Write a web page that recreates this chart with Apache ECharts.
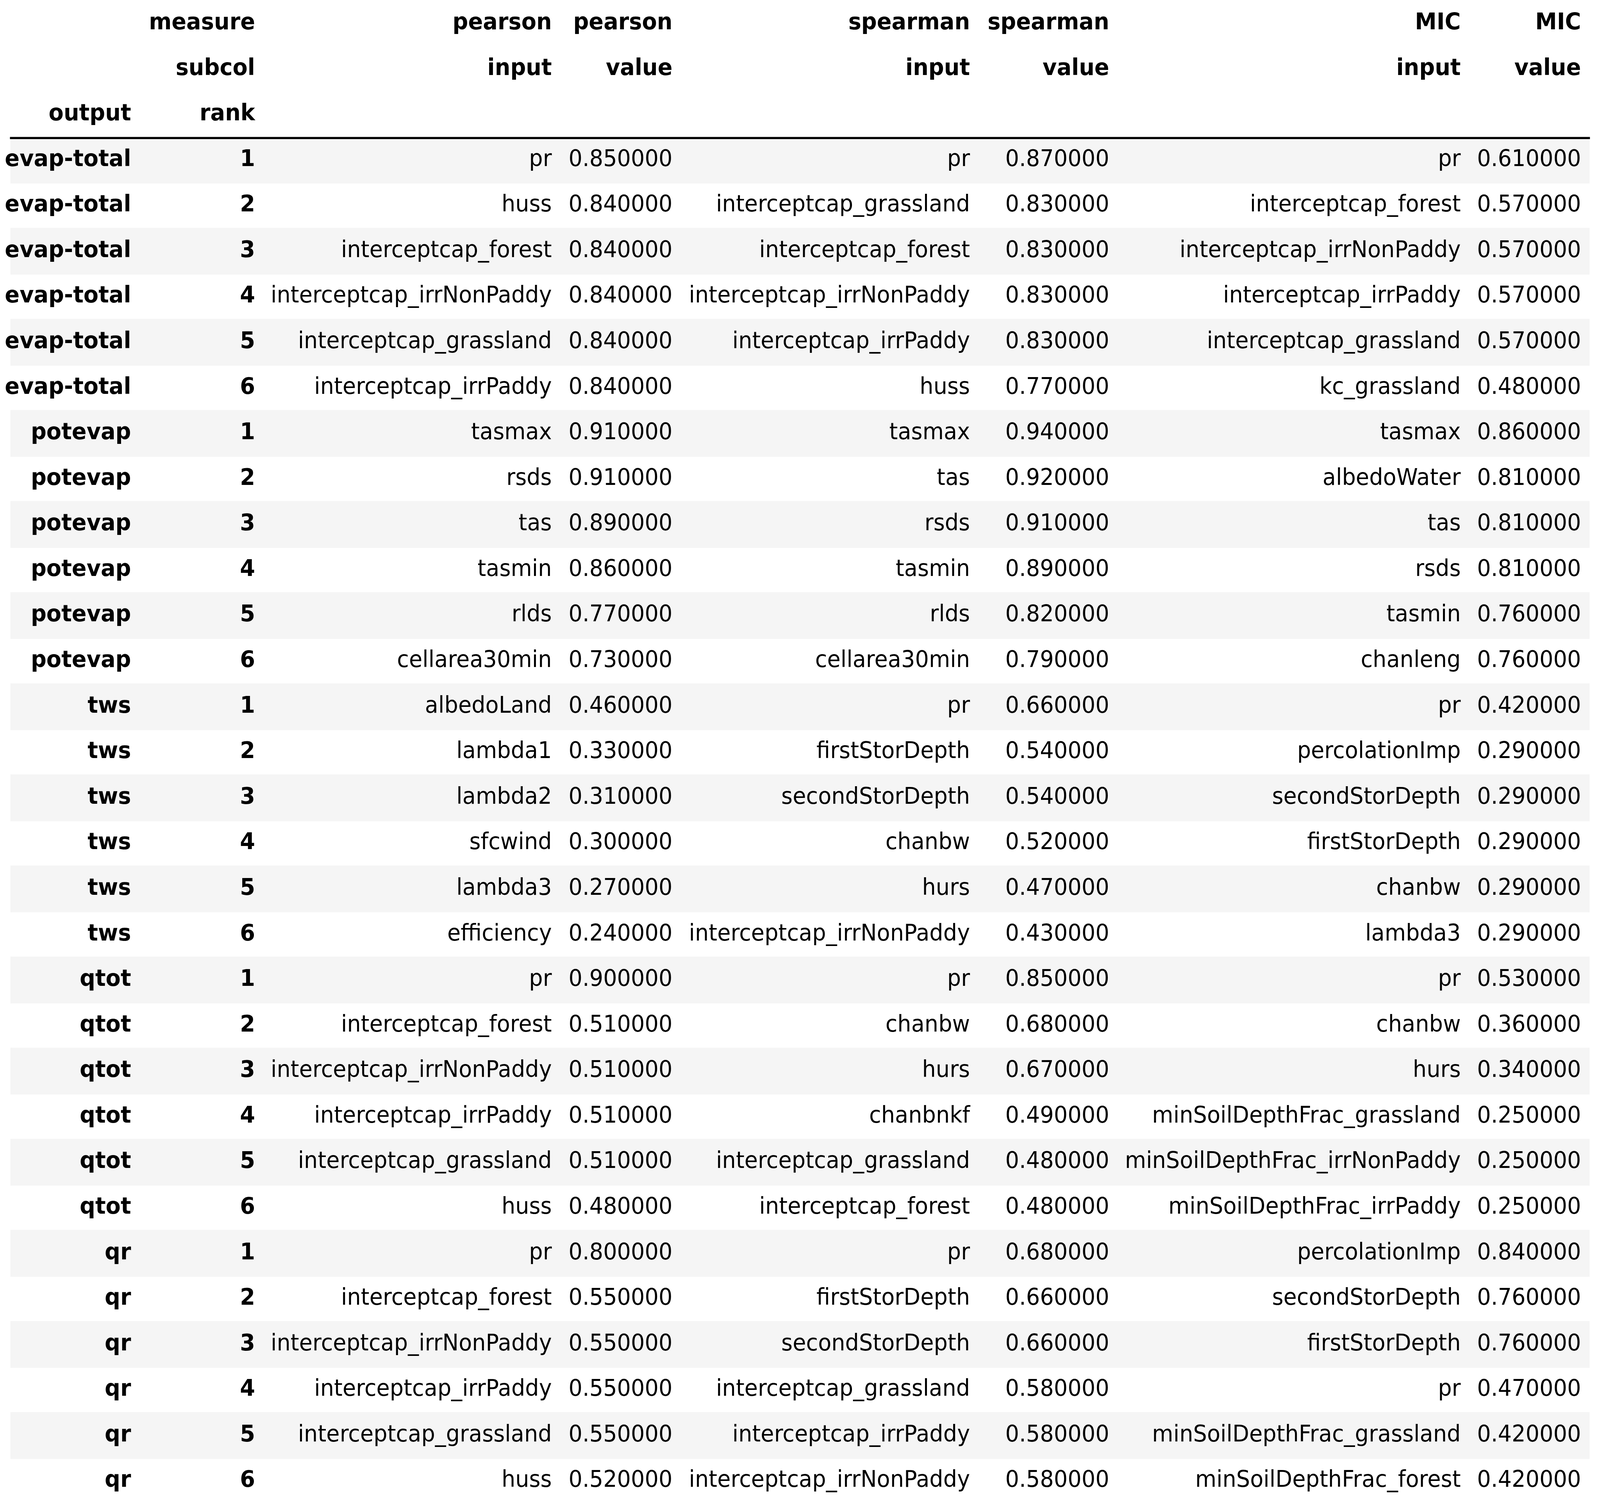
<!DOCTYPE html>
<html>
<head>
<meta charset="utf-8">
<script src="https://cdn.jsdelivr.net/npm/echarts@6/dist/echarts.min.js"></script>
<style>
  html, body { margin: 0; padding: 0; background: #fff; overflow: hidden; }
  #chart { width: 100vw; height: 100vh; }
</style>
</head>
<body>
<div id="chart"></div>
<script>
// table content
const outputs = ['evap-total', 'potevap', 'tws', 'qtot', 'qr'];
const ranks = [1, 2, 3, 4, 5, 6];

const headerTop = ['', 'measure', 'pearson', 'pearson', 'spearman', 'spearman', 'MIC', 'MIC'];
const headerMid = ['', 'subcol', 'input', 'value', 'input', 'value', 'input', 'value'];
const headerLow = ['output', 'rank', '', '', '', '', '', ''];

const pearsonInput = [
  'pr', 'huss', 'interceptcap_forest', 'interceptcap_irrNonPaddy', 'interceptcap_grassland', 'interceptcap_irrPaddy',
  'tasmax', 'rsds', 'tas', 'tasmin', 'rlds', 'cellarea30min',
  'albedoLand', 'lambda1', 'lambda2', 'sfcwind', 'lambda3', 'efficiency',
  'pr', 'interceptcap_forest', 'interceptcap_irrNonPaddy', 'interceptcap_irrPaddy', 'interceptcap_grassland', 'huss',
  'pr', 'interceptcap_forest', 'interceptcap_irrNonPaddy', 'interceptcap_irrPaddy', 'interceptcap_grassland', 'huss'
];
const pearsonValue = [
  0.85, 0.84, 0.84, 0.84, 0.84, 0.84,
  0.91, 0.91, 0.89, 0.86, 0.77, 0.73,
  0.46, 0.33, 0.31, 0.30, 0.27, 0.24,
  0.90, 0.51, 0.51, 0.51, 0.51, 0.48,
  0.80, 0.55, 0.55, 0.55, 0.55, 0.52
];
const spearmanInput = [
  'pr', 'interceptcap_grassland', 'interceptcap_forest', 'interceptcap_irrNonPaddy', 'interceptcap_irrPaddy', 'huss',
  'tasmax', 'tas', 'rsds', 'tasmin', 'rlds', 'cellarea30min',
  'pr', 'firstStorDepth', 'secondStorDepth', 'chanbw', 'hurs', 'interceptcap_irrNonPaddy',
  'pr', 'chanbw', 'hurs', 'chanbnkf', 'interceptcap_grassland', 'interceptcap_forest',
  'pr', 'firstStorDepth', 'secondStorDepth', 'interceptcap_grassland', 'interceptcap_irrPaddy', 'interceptcap_irrNonPaddy'
];
const spearmanValue = [
  0.87, 0.83, 0.83, 0.83, 0.83, 0.77,
  0.94, 0.92, 0.91, 0.89, 0.82, 0.79,
  0.66, 0.54, 0.54, 0.52, 0.47, 0.43,
  0.85, 0.68, 0.67, 0.49, 0.48, 0.48,
  0.68, 0.66, 0.66, 0.58, 0.58, 0.58
];
const micInput = [
  'pr', 'interceptcap_forest', 'interceptcap_irrNonPaddy', 'interceptcap_irrPaddy', 'interceptcap_grassland', 'kc_grassland',
  'tasmax', 'albedoWater', 'tas', 'rsds', 'tasmin', 'chanleng',
  'pr', 'percolationImp', 'secondStorDepth', 'firstStorDepth', 'chanbw', 'lambda3',
  'pr', 'chanbw', 'hurs', 'minSoilDepthFrac_grassland', 'minSoilDepthFrac_irrNonPaddy', 'minSoilDepthFrac_irrPaddy',
  'percolationImp', 'secondStorDepth', 'firstStorDepth', 'pr', 'minSoilDepthFrac_grassland', 'minSoilDepthFrac_forest'
];
const micValue = [
  0.61, 0.57, 0.57, 0.57, 0.57, 0.48,
  0.86, 0.81, 0.81, 0.81, 0.76, 0.76,
  0.42, 0.29, 0.29, 0.29, 0.29, 0.29,
  0.53, 0.36, 0.34, 0.25, 0.25, 0.25,
  0.84, 0.76, 0.76, 0.47, 0.42, 0.42
];

// layout in reference pixels (4297 x 3849), scaled to the real chart size below
const REF_W = 4297, REF_H = 3849;
const colRight = [352, 685, 1482, 1806, 2605, 2979, 3923, 4246];
const HEAD = 3;
const ROW_H = 116.7;
const FONT = 58.5;
const TEXT_DY = 1.5;

// build table rows
const dataRows = [];
outputs.forEach(function (o, i) {
  ranks.forEach(function (r, j) {
    const k = i * ranks.length + j;
    dataRows.push([o, String(r),
      pearsonInput[k], pearsonValue[k].toFixed(6),
      spearmanInput[k], spearmanValue[k].toFixed(6),
      micInput[k], micValue[k].toFixed(6)]);
  });
});
const headerRows = [headerTop, headerMid, headerLow];
const rowKeys = [];
for (let i = 0; i < HEAD + dataRows.length; i++) rowKeys.push(i);

const cells = [];
headerRows.forEach(function (row, r) {
  row.forEach(function (t, c) { if (t) cells.push({ row: r, col: c, text: t, bold: true }); });
});
dataRows.forEach(function (row, r) {
  row.forEach(function (t, c) { cells.push({ row: r + HEAD, col: c, text: t, bold: c < 2 }); });
});

const stripeRows = [];
dataRows.forEach(function (row, r) { if (r % 2 === 0) stripeRows.push([0, r + HEAD]); });

const chart = echarts.init(document.getElementById('chart'), null, { renderer: 'canvas' });
// the window may be narrower than the reference, so x and y scale separately
const sx = chart.getWidth() / REF_W;
const sy = chart.getHeight() / REF_H;

chart.setOption({
  animation: false,
  backgroundColor: '#ffffff',
  grid: { left: 0, right: 0, top: (346 - HEAD * ROW_H) * sy, height: rowKeys.length * ROW_H * sy },
  xAxis: { type: 'value', min: 0, max: REF_W, show: false },
  yAxis: { type: 'category', data: rowKeys, inverse: true, show: false, boundaryGap: true },
  series: [
    {
      // zebra stripes
      type: 'custom',
      data: stripeRows,
      renderItem: function (params, api) {
        const a = api.coord([28, api.value(1)]);
        const b = api.coord([4269, api.value(1)]);
        const h = api.size([0, 1])[1];
        return { type: 'rect', shape: { x: a[0], y: a[1] - h / 2, width: b[0] - a[0], height: h + 3.3 * sy },
          style: { fill: '#f5f5f5' } };
      },
      z: 1
    },
    {
      // header rule
      type: 'custom',
      data: [[0, HEAD]],
      renderItem: function (params, api) {
        const a = api.coord([26.7, api.value(1)]);
        const b = api.coord([4270, api.value(1)]);
        const h = api.size([0, 1])[1];
        const y = a[1] - h / 2 + 3.5 * sy;
        return { type: 'line', shape: { x1: a[0], y1: y, x2: b[0], y2: y },
          style: { stroke: '#000', lineWidth: 5.6 * sy } };
      },
      z: 2
    },
    {
      // cell texts
      type: 'custom',
      data: cells.map(function (c) { return [colRight[c.col], c.row]; }),
      renderItem: function (params, api) {
        const c = cells[params.dataIndex];
        const p = api.coord([api.value(0), api.value(1)]);
        return { type: 'text', x: p[0], y: p[1] + TEXT_DY * sy, scaleX: sx / sy,
          style: { text: c.text, align: 'right', verticalAlign: 'middle', fill: '#000',
            font: (c.bold ? 'bold ' : '') + (FONT * sy).toFixed(2) + 'px "DejaVu Sans"' } };
      },
      z: 3
    }
  ]
});
</script>
</body>
</html>
